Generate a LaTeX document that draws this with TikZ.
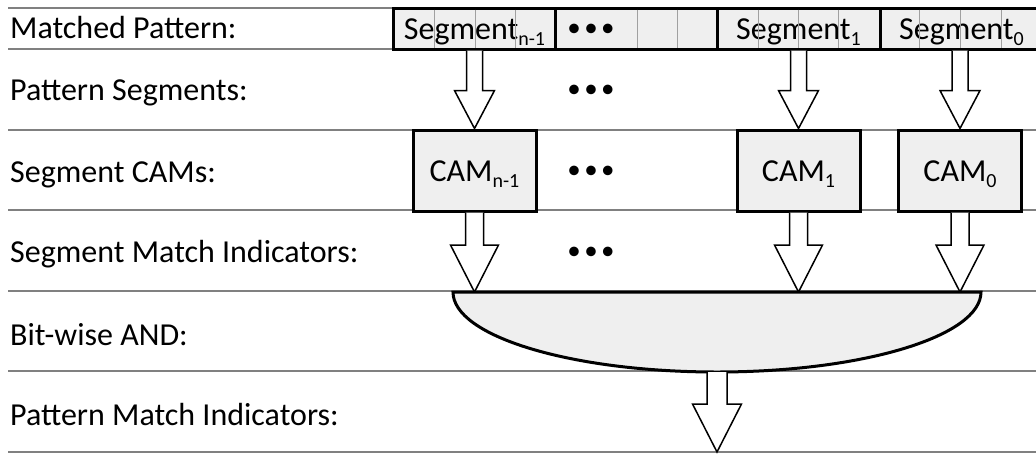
\documentclass[tikz,border=0pt]{standalone}
\usepackage{fontspec}
\setmainfont{Carlito}
\usetikzlibrary{calc}
\definecolor{rulegray}{HTML}{808080}
\definecolor{boxfill}{HTML}{EFEFEF}
\definecolor{cellgray}{HTML}{A0A0A0}
\newcommand\mysub[1]{\raisebox{-0.2em}{\fontsize{20}{20}\selectfont #1}}
\newcommand\bigfont{\fontsize{32}{38}\selectfont}
\newcommand\blockarrow[5]{%
  \path[hollow] let \p1=(#1), \p2=(#2) in
    ({\x1-#3pt},{\y1}) -- ({\x1-#3pt},{\y2+#5pt}) -- ({\x1-#4pt},{\y2+#5pt})
    -- ({\x1},{\y2}) -- ({\x1+#4pt},{\y2+#5pt}) -- ({\x1+#3pt},{\y2+#5pt})
    -- ({\x1+#3pt},{\y1});}
\tikzset{
  lab/.style={anchor=base west, inner sep=0pt, font=\bigfont},
  segcell/.style={draw, line width=3pt, fill=boxfill, minimum width=163pt,
    minimum height=41pt, inner sep=0pt, text height=21pt, text depth=0pt, font=\bigfont},
  cam/.style={draw, line width=3pt, fill=boxfill, minimum width=123pt,
    minimum height=81pt, inner sep=0pt, text height=21pt, text depth=0pt, font=\bigfont},
  hollow/.style={draw, line width=1.5pt, fill=white, line join=miter},
  rowline/.style={draw=rulegray, line width=1.5pt},
  cellline/.style={draw=cellgray, line width=1pt},
  gate/.style={draw, line width=3pt, fill=boxfill},
  dotstyle/.style={inner sep=0pt, font=\fontsize{27}{30}\selectfont, text height=16pt, text depth=0pt}
}
\newcommand\threedots{\textbullet\kern3.5pt\textbullet\kern3.5pt\textbullet}
\begin{document}
\begin{tikzpicture}[x=1pt,y=-1pt]
\useasboundingbox (0,0) rectangle (1036,453);
% row rules
\foreach \yy in {8,49,130,210,291,371,452}
  \draw[rowline] (8,\yy) -- (1036,\yy);
% labels
\node[lab] (l1) at (10,38) {Matched Pattern:};
\node[lab] (l2) at (10,100) {Pattern Segments:};
\node[lab] (l3) at (10,182) {Segment CAMs:};
\node[lab] (l4) at (10,262) {Segment Match Indicators:};
\node[lab] (l5) at (10,345) {Bit-wise AND:};
\node[lab] (l6) at (10,425) {Pattern Match Indicators:};
% coordinates of the AND gate
\coordinate (gatetop) at (717,292);
\coordinate (gatebot) at (717,372);
\coordinate (out) at (717,452);
% matched pattern box
\node[segcell] (s2) at (474.5,28.5) {Segment\mysub{n-1}};
\node[segcell] (sd) at (636.5,28.5) {};
\node[segcell] (s1) at (798.5,28.5) {Segment\mysub{1}};
\node[segcell, minimum width=181pt] (s0) at (970.5,28.5) {\hspace*{-18pt}Segment\mysub{0}};
\node[dotstyle] (d0) at (591,28.5) {\threedots};
\foreach \xx in {434,475,515,637,677,758,798,838,919,960,1001}
  \draw[cellline] (\xx,9.5) -- (\xx,47.5);
% CAMs
\node[cam] (c2) at (474.5,170.5) {CAM\mysub{n-1}};
\node[cam] (c1) at (798.5,170.5) {CAM\mysub{1}};
\node[cam] (c0) at (960,170.5) {CAM\mysub{0}};
% arrows segment -> CAM
\blockarrow{s2.south}{c2.north}{8}{20}{38}
\blockarrow{s1.south -| c1.north}{c1.north}{8}{20}{38}
\blockarrow{s0.south -| c0.north}{c0.north}{8}{20}{38}
% arrows CAM -> gate
\blockarrow{c2.south}{c2.south |- gatetop}{9}{24}{47}
\blockarrow{c1.south}{c1.south |- gatetop}{9}{24}{47}
\blockarrow{c0.south}{c0.south |- gatetop}{9}{24}{47}
% dots
\node[dotstyle] (d1) at (591,89.5) {\threedots};
\node[dotstyle] (d2) at (591,170) {\threedots};
\node[dotstyle] (d3) at (591,251) {\threedots};
% AND gate
\draw[gate] (453,292) -- (981,292) arc[start angle=0, end angle=180, x radius=264, y radius=80] -- cycle;
% output arrow
\blockarrow{gatebot}{out}{10}{24.5}{48}
\end{tikzpicture}
\end{document}
